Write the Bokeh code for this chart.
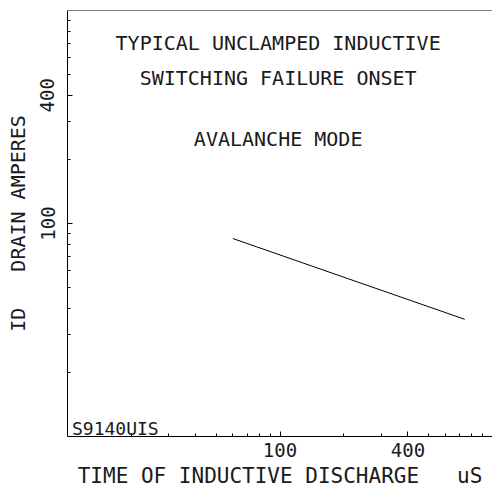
from bokeh.plotting import figure
from bokeh.models import FixedTicker, Label, Range1d, Span, PrintfTickFormatter
from bokeh.embed import file_html
from bokeh.resources import INLINE

# ---- data ----
time_us = [60, 740]          # time of inductive discharge (uS)
drain_amps = [85, 35.5]      # ID drain amperes
x_major = [100, 400]
x_minor = [20, 30, 40, 50, 60, 70, 80, 90, 200, 300, 500, 600, 700, 800, 900]
y_major = [100, 400]
y_minor = [20, 30, 40, 50, 60, 70, 80, 90, 200, 300, 500, 600, 700, 800, 900]
title_lines = ["TYPICAL UNCLAMPED INDUCTIVE", "SWITCHING FAILURE ONSET", "AVALANCHE MODE"]
part_code = "S9140UIS"

FONT = "DejaVu Sans Mono"
INK = "#1a1a1a"

p = figure(
    x_axis_type="log", y_axis_type="log",
    x_range=Range1d(10, 1000), y_range=Range1d(10, 1000),
    width=492, height=493,
    min_border_left=67, min_border_right=0, min_border_top=10, min_border_bottom=57,
    output_backend="svg", toolbar_location=None,
)
p.outline_line_color = None
p.xgrid.visible = False
p.ygrid.visible = False
p.background_fill_color = "white"

for ax in (p.xaxis[0], p.yaxis[0]):
    ax.axis_line_color = "black"
    ax.major_tick_line_color = "black"
    ax.minor_tick_line_color = "black"
    ax.major_tick_in = 5
    ax.major_tick_out = 0
    ax.minor_tick_in = 3
    ax.minor_tick_out = 0
    ax.formatter = PrintfTickFormatter(format="%d")
    ax.major_label_text_font = FONT
    ax.major_label_text_font_size = "19px"
    ax.major_label_text_color = INK
    ax.axis_label_text_font = FONT
    ax.axis_label_text_font_style = "normal"
    ax.axis_label_text_color = INK

p.xaxis.ticker = FixedTicker(ticks=x_major, minor_ticks=x_minor)
p.yaxis.ticker = FixedTicker(ticks=y_major, minor_ticks=y_minor)

p.xaxis.axis_label = "TIME OF INDUCTIVE DISCHARGE\u00a0\u00a0\u00a0uS"
p.xaxis.axis_label_text_font_size = "21px"
p.xaxis.major_label_standoff = 6
p.xaxis.axis_label_standoff = 4

p.yaxis.axis_label = "ID\u00a0\u00a0\u00a0DRAIN AMPERES"
p.yaxis.axis_label_text_font_size = "20px"
p.yaxis.major_label_orientation = "vertical"
p.yaxis.major_label_standoff = 13
p.yaxis.axis_label_standoff = 8

# top frame line
p.add_layout(Span(location=1000, dimension="width", line_color="black", line_width=1))

p.line(time_us, drain_amps, line_color="black", line_width=1)

for txt, yv in zip(title_lines, [700, 480, 248]):
    p.add_layout(Label(x=98, y=yv, text=txt, text_align="center", text_baseline="middle",
                       text_font=FONT, text_font_size="20px", text_color=INK))

p.add_layout(Label(x=10.5, y=10.9, text=part_code, text_align="left", text_baseline="middle",
                   text_font=FONT, text_font_size="18px", text_color=INK))

open("out.html", "w").write(file_html(p, INLINE))
